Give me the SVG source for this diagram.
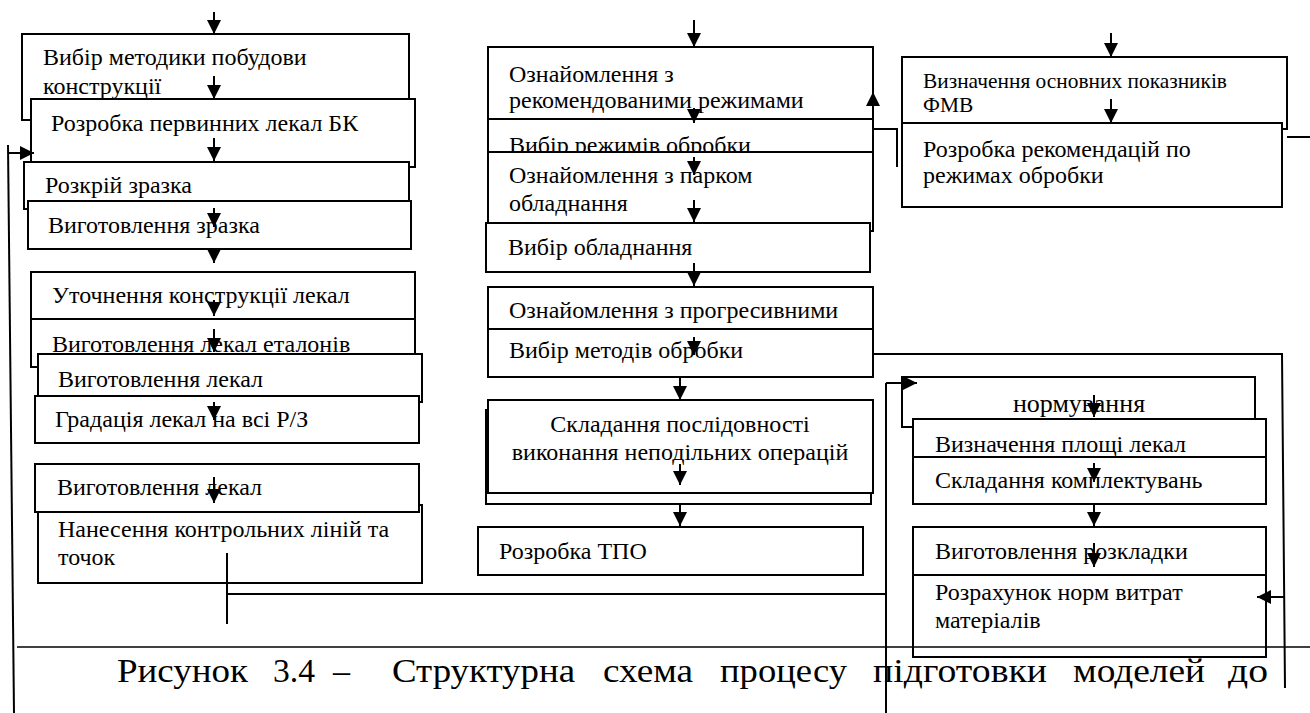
<svg xmlns="http://www.w3.org/2000/svg" width="1310" height="713" viewBox="0 0 1310 713">
<defs>
<style>
.b{fill:#fff;stroke:#000;stroke-width:2}
.t{font-family:'Liberation Serif','Times New Roman',serif;font-size:24px;fill:#000}
.ts{font-family:'Liberation Serif','Times New Roman',serif;font-size:21.4px;fill:#000}
.tl{font-family:'Liberation Serif','Times New Roman',serif;font-size:26px;fill:#000}
.c{fill:none;stroke:#000;stroke-width:2}
.cap{font-family:'Liberation Serif','Times New Roman',serif;font-size:34px;fill:#000}
</style>
<marker id="ah" markerUnits="userSpaceOnUse" markerWidth="14" markerHeight="14" refX="14" refY="7" orient="auto">
<path d="M0,0 L14,7 L0,14 z" fill="#000"/>
</marker>
</defs>
<rect width="1310" height="713" fill="#fff"/>

<!-- left column -->
<g id="L1"><rect class="b" x="22" y="34" width="387" height="86"/><text class="t" x="43" y="65">Вибір методики побудови</text><text class="t" x="43" y="94">конструкції</text></g>
<g id="L2"><rect class="b" x="31" y="99" width="384" height="68"/><text class="t" x="51" y="131">Розробка первинних лекал БК</text></g>
<g id="L3"><rect class="b" x="24" y="162" width="385" height="47"/><text class="t" x="45" y="193">Розкрій зразка</text></g>
<g id="L4"><rect class="b" x="28" y="201" width="383" height="48"/><text class="t" x="48" y="233">Виготовлення зразка</text></g>
<g id="L5"><rect class="b" x="31" y="272" width="384" height="47"/><text class="t" x="52" y="303">Уточнення конструкції лекал</text></g>
<g id="L6"><rect class="b" x="31" y="319" width="384" height="48"/><text class="t" x="52" y="352">Виготовлення лекал еталонів</text></g>
<g id="L7"><rect class="b" x="38" y="354" width="384" height="48"/><text class="t" x="58" y="387">Виготовлення лекал</text></g>
<g id="L8"><rect class="b" x="35" y="396" width="384" height="47"/><text class="t" x="55" y="427">Градація лекал на всі Р/З</text></g>
<g id="L10"><rect class="b" x="38" y="505" width="384" height="78"/><text class="t" x="58" y="537">Нанесення контрольних ліній та</text><text class="t" x="58" y="565">точок</text></g>
<g id="L9"><rect class="b" x="35" y="464" width="384" height="48"/><text class="t" x="57" y="495">Виготовлення лекал</text></g>

<!-- middle column -->
<g id="M1"><rect class="b" x="488" y="47" width="385" height="72"/><text class="t" x="509" y="82">Ознайомлення з</text><text class="t" x="509" y="108">рекомендованими режимами</text></g>
<g id="M2"><rect class="b" x="488" y="119" width="385" height="33"/><text class="t" x="509" y="153">Вибір режимів обробки</text></g>
<g id="M3"><rect class="b" x="488" y="152" width="385" height="79"/><text class="t" x="509" y="183">Ознайомлення з парком</text><text class="t" x="509" y="211">обладнання</text></g>
<g id="M4"><rect class="b" x="486" y="223" width="384" height="49"/><text class="t" x="508" y="255">Вибір обладнання</text></g>
<g id="M5"><rect class="b" x="488" y="287" width="385" height="42"/><text class="t" x="509" y="318">Ознайомлення з прогресивними</text></g>
<g id="M6"><rect class="b" x="488" y="329" width="385" height="48"/><text class="t" x="509" y="358">Вибір методів обробки</text></g>
<g id="M7"><rect class="b" x="486" y="410" width="385" height="94"/><rect class="b" x="488" y="400" width="385" height="93"/><text class="t" x="680" y="432" text-anchor="middle">Складання послідовності</text><text class="t" x="680" y="460" text-anchor="middle">виконання неподільних операцій</text></g>
<g id="M8"><rect class="b" x="478" y="527" width="385" height="48"/><text class="t" x="499" y="559">Розробка ТПО</text></g>

<!-- right column -->
<g id="R1"><rect class="b" x="902" y="57" width="385" height="72"/><text class="ts" x="923" y="88">Визначення основних показників</text><text class="ts" x="923" y="112">ФМВ</text></g>
<g id="R2"><rect class="b" x="902" y="123" width="380" height="84"/><text class="t" x="923" y="157">Розробка рекомендацій по</text><text class="t" x="923" y="183">режимах обробки</text></g>
<g id="R3"><rect class="b" x="902" y="377" width="353" height="50"/><text class="tl" x="1079" y="412" text-anchor="middle">нормування</text></g>
<g id="R4"><rect class="b" x="913" y="419" width="353" height="38"/><text class="t" x="935" y="452">Визначення площі лекал</text></g>
<g id="R5"><rect class="b" x="913" y="457" width="353" height="47"/><text class="t" x="935" y="488">Складання комплектувань</text></g>
<g id="R6"><rect class="b" x="913" y="527" width="353" height="48"/><text class="t" x="935" y="559">Виготовлення розкладки</text></g>
<g id="R7"><rect class="b" x="913" y="575" width="353" height="82"/><text class="t" x="935" y="600">Розрахунок норм витрат</text><text class="t" x="935" y="628">матеріалів</text></g>

<!-- connectors -->
<g id="connectors">
<line class="c" x1="214" y1="12" x2="214" y2="34" marker-end="url(#ah)"/>
<line class="c" x1="214" y1="76" x2="214" y2="99" marker-end="url(#ah)"/>
<line class="c" x1="214" y1="138" x2="214" y2="161" marker-end="url(#ah)"/>
<line class="c" x1="214" y1="208" x2="214" y2="227" marker-end="url(#ah)"/>
<line class="c" x1="214" y1="249" x2="214" y2="263" marker-end="url(#ah)"/>
<line class="c" x1="214" y1="300" x2="214" y2="316" marker-end="url(#ah)"/>
<line class="c" x1="214" y1="329" x2="214" y2="352" marker-end="url(#ah)"/>
<line class="c" x1="214" y1="402" x2="214" y2="420" marker-end="url(#ah)"/>
<line class="c" x1="214" y1="477" x2="214" y2="503" marker-end="url(#ah)"/>
<line class="c" x1="8" y1="145" x2="14" y2="713"/>
<line class="c" x1="8" y1="153" x2="34" y2="153" marker-end="url(#ah)"/>

<line class="c" x1="694" y1="20" x2="694" y2="47" marker-end="url(#ah)"/>
<line class="c" x1="694" y1="108" x2="694" y2="123" marker-end="url(#ah)"/>
<line class="c" x1="694" y1="157" x2="694" y2="175" marker-end="url(#ah)"/>
<line class="c" x1="694" y1="200" x2="694" y2="222" marker-end="url(#ah)"/>
<line class="c" x1="694" y1="263" x2="694" y2="286" marker-end="url(#ah)"/>
<line class="c" x1="694" y1="337" x2="694" y2="355" marker-end="url(#ah)"/>
<line class="c" x1="680" y1="377" x2="680" y2="400" marker-end="url(#ah)"/>
<line class="c" x1="680" y1="464" x2="680" y2="485" marker-end="url(#ah)"/>
<line class="c" x1="680" y1="504" x2="680" y2="526" marker-end="url(#ah)"/>
<polyline class="c" points="897,167 897,129 873,129 873,92" marker-end="url(#ah)"/>
<polyline class="c" points="873,354 1282,354 1285,688"/>
<line class="c" x1="1285" y1="597" x2="1257" y2="597" marker-end="url(#ah)"/>

<line class="c" x1="1111" y1="33" x2="1111" y2="57" marker-end="url(#ah)"/>
<line class="c" x1="1111" y1="99" x2="1111" y2="123" marker-end="url(#ah)"/>
<line class="c" x1="1287" y1="137" x2="1310" y2="137"/>
<line class="c" x1="1094" y1="395" x2="1094" y2="417" marker-end="url(#ah)"/>
<line class="c" x1="1094" y1="463" x2="1094" y2="482" marker-end="url(#ah)"/>
<line class="c" x1="1094" y1="504" x2="1094" y2="526" marker-end="url(#ah)"/>
<line class="c" x1="1094" y1="543" x2="1094" y2="567" marker-end="url(#ah)"/>

<line class="c" x1="227" y1="553" x2="227" y2="624"/>
<line class="c" x1="227" y1="594" x2="886" y2="594"/>
<line class="c" x1="886" y1="383" x2="886" y2="713"/>
<line class="c" x1="886" y1="383" x2="917" y2="383" marker-end="url(#ah)"/>
</g>

<g id="caption">
<line x1="17" y1="647" x2="1310" y2="647" stroke="#000" stroke-width="1.5"/>
<text class="cap" x="117" y="682" textLength="131" lengthAdjust="spacingAndGlyphs">Рисунок</text>
<text class="cap" x="273" y="682" textLength="42" lengthAdjust="spacingAndGlyphs">3.4</text>
<text class="cap" x="333" y="682">–</text>
<text class="cap" x="392" y="682" textLength="183" lengthAdjust="spacingAndGlyphs">Структурна</text>
<text class="cap" x="603" y="682" textLength="90" lengthAdjust="spacingAndGlyphs">схема</text>
<text class="cap" x="720" y="682" textLength="127" lengthAdjust="spacingAndGlyphs">процесу</text>
<text class="cap" x="873" y="682" textLength="174" lengthAdjust="spacingAndGlyphs">підготовки</text>
<text class="cap" x="1073" y="682" textLength="132" lengthAdjust="spacingAndGlyphs">моделей</text>
<text class="cap" x="1228" y="682" textLength="40" lengthAdjust="spacingAndGlyphs">до</text>
</g>
</svg>
